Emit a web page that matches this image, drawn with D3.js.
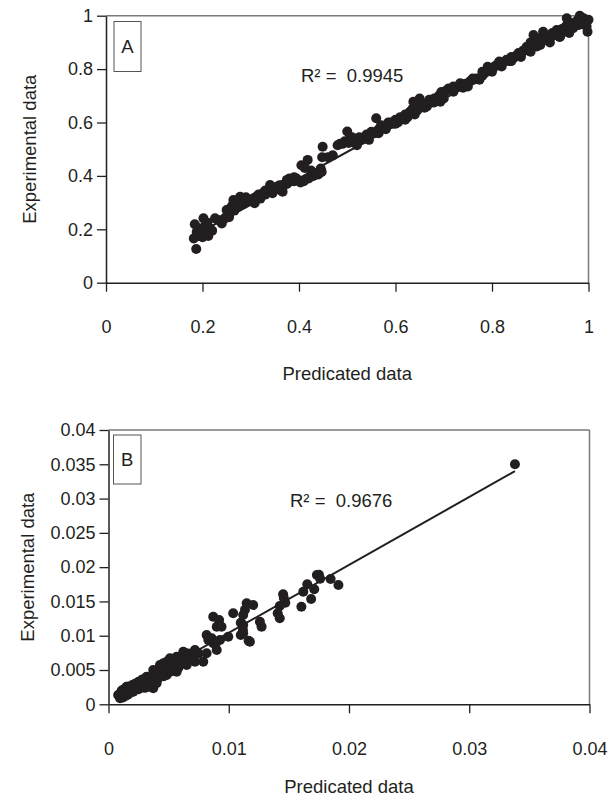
<!DOCTYPE html>
<html><head><meta charset="utf-8">
<script src="https://cdn.jsdelivr.net/npm/d3@7"></script>
<style>
html,body{margin:0;padding:0;background:#fff;}
svg{display:block;}
text{font-family:"Liberation Sans",Arial,sans-serif;fill:#231f20;}
</style></head>
<body>
<svg id="chart" width="610" height="796"></svg>
<script>
// ---------- DATA ----------
const xTicksA = [0, 0.2, 0.4, 0.6, 0.8, 1];
const yTicksA = [0, 0.2, 0.4, 0.6, 0.8, 1];
const xTickLabelsA = ["0", "0.2", "0.4", "0.6", "0.8", "1"];
const yTickLabelsA = ["0", "0.2", "0.4", "0.6", "0.8", "1"];
const xTicksB = [0, 0.01, 0.02, 0.03, 0.04];
const yTicksB = [0, 0.005, 0.01, 0.015, 0.02, 0.025, 0.03, 0.035, 0.04];
const xTickLabelsB = ["0", "0.01", "0.02", "0.03", "0.04"];
const yTickLabelsB = ["0", "0.005", "0.01", "0.015", "0.02", "0.025", "0.03", "0.035", "0.04"];
const panelLabels = ["A", "B"];
const r2Labels = ["R\u00B2 =  0.9945", "R\u00B2 =  0.9676"];
const xTitle = "Predicated data";
const yTitle = "Experimental data";

// Panel A: predicted (x) vs experimental (y)
const predictedA = [0.182,0.184,0.187,0.188,0.192,0.195,0.198,0.202,0.204,0.207,0.209,0.212,0.215,0.226,0.232,0.24,0.245,
0.25,0.252,0.256,0.258,0.262,0.264,0.266,0.27,0.273,0.276,0.278,0.282,0.285,0.288,0.292,0.296,0.3,0.305,0.308,0.312,0.316,0.32,
0.325,0.33,0.335,0.34,0.345,0.35,0.355,0.361,0.365,0.366,0.37,0.375,0.38,0.385,0.39,0.395,
0.403,0.405,0.41,0.412,0.418,0.42,0.425,0.43,0.435,0.44,0.445,0.447,0.448,0.449,0.46,0.47,
0.48,0.485,0.49,0.495,0.5,0.503,0.506,0.51,0.515,0.52,0.525,0.53,0.536,0.54,0.545,0.55,0.556,0.56,0.565,0.57,0.575,0.58,0.585,0.59,0.595,
0.6,0.605,0.61,0.615,0.62,0.625,0.63,0.635,0.637,0.64,0.645,0.65,0.655,0.66,0.665,0.67,0.675,0.68,0.685,0.69,0.693,0.695,0.7,
0.705,0.71,0.715,0.72,0.725,0.734,0.74,0.745,0.75,0.755,0.762,0.768,0.774,0.78,0.785,0.791,0.795,0.8,
0.805,0.81,0.815,0.82,0.83,0.835,0.84,0.844,0.85,0.855,0.86,0.865,0.87,0.872,0.875,0.88,0.882,0.886,0.89,0.893,0.897,0.9,0.905,0.906,0.91,0.915,0.92,0.925,0.93,0.934,0.937,0.941,0.945,0.95,0.953,0.955,0.96,0.965,0.968,0.972,0.975,0.978,0.982,0.985,0.99,0.993,0.996,0.998,1.0,
0.255,0.268,0.28,0.29,0.31,0.33,0.345,0.36,0.375,0.39,0.51,0.52,0.545,0.565,0.585,0.6,0.62,0.64,0.66,0.68,0.7,
0.72,0.74,0.76,0.78,0.82,0.84,0.86,0.88,0.9,0.92,0.94,0.96,0.98,0.19,0.2,0.21,0.22];
const experimentalA = [0.166,0.219,0.126,0.19,0.175,0.2,0.185,0.241,0.21,0.19,0.185,0.175,0.205,0.241,0.235,0.222,0.24,
0.272,0.255,0.26,0.28,0.29,0.31,0.27,0.3,0.285,0.31,0.322,0.3,0.295,0.315,0.303,0.31,0.305,0.315,0.298,0.322,0.33,0.315,
0.335,0.33,0.345,0.366,0.35,0.355,0.36,0.347,0.36,0.341,0.37,0.385,0.39,0.38,0.395,0.39,
0.375,0.44,0.38,0.43,0.46,0.39,0.42,0.4,0.41,0.405,0.428,0.415,0.47,0.509,0.47,0.477,
0.515,0.52,0.52,0.53,0.566,0.523,0.54,0.53,0.525,0.53,0.545,0.535,0.54,0.555,0.55,0.565,0.56,0.616,0.575,0.59,0.58,0.575,0.59,0.6,0.595,
0.61,0.6,0.62,0.615,0.63,0.62,0.64,0.65,0.678,0.66,0.645,0.69,0.665,0.67,0.66,0.685,0.675,0.69,0.68,0.7,0.678,0.714,0.705,
0.72,0.727,0.725,0.735,0.73,0.747,0.74,0.745,0.735,0.755,0.76,0.765,0.76,0.775,0.785,0.809,0.8,0.79,
0.81,0.815,0.828,0.82,0.835,0.83,0.845,0.84,0.85,0.86,0.855,0.87,0.875,0.884,0.87,0.9,0.88,0.928,0.9,0.885,0.915,0.9,0.92,0.94,0.91,0.925,0.915,0.935,0.93,0.946,0.925,0.921,0.95,0.94,0.96,0.99,0.955,0.97,0.953,0.975,0.965,0.985,1.0,0.98,0.99,0.975,0.96,0.94,0.985,
0.245,0.285,0.295,0.32,0.32,0.345,0.335,0.365,0.37,0.38,0.545,0.515,0.535,0.56,0.6,0.595,0.61,0.63,0.655,0.675,0.69,
0.715,0.73,0.765,0.79,0.81,0.83,0.845,0.865,0.89,0.9,0.92,0.935,0.965,0.205,0.17,0.225,0.195];
const trendXA = [0.182, 1.0];
const trendYA = [0.175, 0.985];

// Panel B
const predictedB = [0.0008,0.00096,0.001,0.001,0.0011,0.0012,0.00123,0.0013,0.0013,0.0014,0.0014,0.0015,0.0015,0.0016,0.0017,0.0017,0.0018,0.0019,0.002,0.00206,0.00206,0.0021,0.0022,0.0022,0.0023,0.0024,0.0025,0.0025,0.0026,0.00262,0.0027,0.0028,0.0028,0.0029,0.003,0.003,0.0031,0.00317,0.00317,0.0032,0.0033,0.0034,0.0035,0.0036,0.0036,0.0037,0.00372,0.00372,0.0038,0.0039,0.004,0.004,0.0041,0.0042,0.0043,0.00428,0.0044,0.0045,0.00456,0.0046,0.0047,0.0048,0.00484,0.00484,0.0049,0.005,0.00511,0.0052,0.0053,0.0054,0.0055,0.00567,0.00567,0.0058,0.00594,0.006,0.00622,0.0063,0.0065,0.0065,0.0066,0.0069,0.00705,0.00719,0.00719,0.0075,0.00788,0.00816,0.00816,0.0083,0.00858,0.00871,0.00871,0.0089,0.009,0.009,0.0092,0.0094,0.00927,0.00996,0.01037,0.0110,0.0110,0.01118,0.0112,0.0112,0.0112,0.01135,0.01149,0.01165,0.01176,0.01203,0.01259,0.01273,0.01407,0.01424,0.01424,0.01452,0.01458,0.0147,0.01604,0.0162,0.01653,0.01685,0.01711,0.01733,0.0175,0.0176,0.01847,0.01912,0.0338,
0.0012,0.0016,0.0019,0.0023,0.0026,0.0029,0.0033,0.0036,0.0039,0.0042,0.0045,0.0048,0.0051,0.0054,0.0057,0.006,0.0063,0.0034,0.0041,0.0046,0.0052,0.0058,0.0068,0.0072];
const experimentalB = [0.00136,0.00087,0.0012,0.0016,0.002,0.001,0.00209,0.0018,0.0022,0.0012,0.0016,0.00257,0.0019,0.0014,0.0021,0.0026,0.0017,0.0023,0.0028,0.00281,0.00184,0.0025,0.0021,0.003,0.0024,0.0027,0.0022,0.0033,0.0029,0.0033,0.0025,0.0036,0.0031,0.0027,0.0034,0.0024,0.0029,0.00402,0.00248,0.0038,0.0033,0.0035,0.0031,0.004,0.0036,0.0032,0.005,0.00233,0.0038,0.0043,0.0045,0.00306,0.0041,0.005,0.0047,0.00573,0.0052,0.0044,0.00598,0.0055,0.005,0.0058,0.00621,0.00427,0.0054,0.0061,0.0067,0.0056,0.0062,0.0064,0.0058,0.00694,0.00475,0.006,0.00646,0.0063,0.00767,0.0068,0.00744,0.00573,0.0071,0.0074,0.0067,0.00792,0.00621,0.0074,0.00621,0.00744,0.0101,0.0094,0.00962,0.01277,0.0089,0.0088,0.01132,0.00792,0.0123,0.01132,0.00938,0.00986,0.01327,0.0101,0.0119,0.01083,0.01302,0.01156,0.01035,0.0138,0.01473,0.00928,0.00913,0.01448,0.01205,0.01132,0.01327,0.01433,0.01254,0.01604,0.0155,0.0148,0.01423,0.01642,0.0175,0.01536,0.01677,0.01886,0.0189,0.0183,0.01827,0.0174,0.035,
0.0017,0.0021,0.0025,0.0027,0.0031,0.0033,0.0036,0.0039,0.0041,0.0046,0.0049,0.0053,0.0057,0.0059,0.0061,0.0066,0.0071,0.0026,0.0037,0.0041,0.0048,0.0053,0.0066,0.0077];
const trendXB = [0.0008, 0.0338];
const trendYB = [0.0013, 0.0340];

// ---------- DRAW ----------
const svg = d3.select("#chart");
const ink = "#231f20";

const panels = [
  {x:predictedA, y:experimentalA, tx:trendXA, ty:trendYA, xt:xTicksA, yt:yTicksA, xl:xTickLabelsA, yl:yTickLabelsA,
   xd:[0,1], yd:[0,1], L:106, R:588.5, T:15.7, B:282.7, lab:panelLabels[0], r2:r2Labels[0],
   box:{x:114,y:21.5,w:27,h:50}, r2x:301, r2y:82, titleY:380, yTitleX:36},
  {x:predictedB, y:experimentalB, tx:trendXB, ty:trendYB, xt:xTicksB, yt:yTicksB, xl:xTickLabelsB, yl:yTickLabelsB,
   xd:[0,0.04], yd:[0,0.04], L:108.5, R:589.5, T:430, B:704.3, lab:panelLabels[1], r2:r2Labels[1],
   box:{x:113.5,y:435,w:27.5,h:49}, r2x:290, r2y:507, titleY:793, yTitleX:34}
];

panels.forEach(p => {
  const x = d3.scaleLinear().domain(p.xd).range([p.L, p.R]);
  const y = d3.scaleLinear().domain(p.yd).range([p.B, p.T]);
  const g = svg.append("g");

  // frame (top & right, grey)
  g.append("line").attr("x1", p.L).attr("x2", p.R).attr("y1", p.T).attr("y2", p.T)
    .attr("stroke", "#7a7a7a").attr("stroke-width", 1.5);
  g.append("line").attr("x1", p.R).attr("x2", p.R).attr("y1", p.T).attr("y2", p.B)
    .attr("stroke", "#7a7a7a").attr("stroke-width", 1.5);

  // axes
  const xAxis = d3.axisBottom(x).tickValues(p.xt).tickFormat((d,i) => p.xl[i])
    .tickSize(9).tickSizeOuter(0).tickPadding(29);
  const yAxis = d3.axisLeft(y).tickValues(p.yt).tickFormat((d,i) => p.yl[i])
    .tickSize(9).tickSizeOuter(0).tickPadding(4);
  const gx = g.append("g").attr("transform", `translate(0,${p.B})`).call(xAxis);
  const gy = g.append("g").attr("transform", `translate(${p.L},0)`).call(yAxis);
  [gx, gy].forEach(a => {
    a.selectAll("path.domain").attr("stroke", ink).attr("stroke-width", 1.5);
    a.selectAll(".tick line").attr("stroke", ink).attr("stroke-width", 1.3);
    a.selectAll(".tick text").attr("fill", ink)
      .style("font-family", '"Liberation Sans", Arial, sans-serif').style("font-size", "18px");
  });

  // points
  const pts = p.x.map((v,i) => [v, p.y[i]]);
  g.append("g").selectAll("circle").data(pts).join("circle")
    .attr("cx", d => x(d[0])).attr("cy", d => y(d[1])).attr("r", 5).attr("fill", ink);

  // trend line
  g.append("line").attr("x1", x(p.tx[0])).attr("y1", y(p.ty[0]))
    .attr("x2", x(p.tx[1])).attr("y2", y(p.ty[1]))
    .attr("stroke", ink).attr("stroke-width", 2);

  // panel label box
  g.append("rect").attr("x", p.box.x).attr("y", p.box.y).attr("width", p.box.w).attr("height", p.box.h)
    .attr("fill", "#fff").attr("stroke", "#555").attr("stroke-width", 1);
  g.append("text").attr("x", p.box.x + p.box.w/2).attr("y", p.box.y + p.box.h/2 + 6.5)
    .attr("text-anchor", "middle").style("font-size", "18.5px").text(p.lab);

  // R^2
  g.append("text").attr("x", p.r2x).attr("y", p.r2y).style("font-size", "18.5px")
    .style("white-space", "pre").attr("xml:space", "preserve").text(p.r2);

  // axis titles
  g.append("text").attr("x", (p.L + p.R)/2).attr("y", p.titleY).attr("text-anchor", "middle")
    .style("font-size", "18.5px").text(xTitle);
  g.append("text").attr("transform", `translate(${p.yTitleX},${(p.T + p.B)/2}) rotate(-90)`)
    .attr("text-anchor", "middle").style("font-size", "18.5px").text(yTitle);
});
</script>
</body></html>
